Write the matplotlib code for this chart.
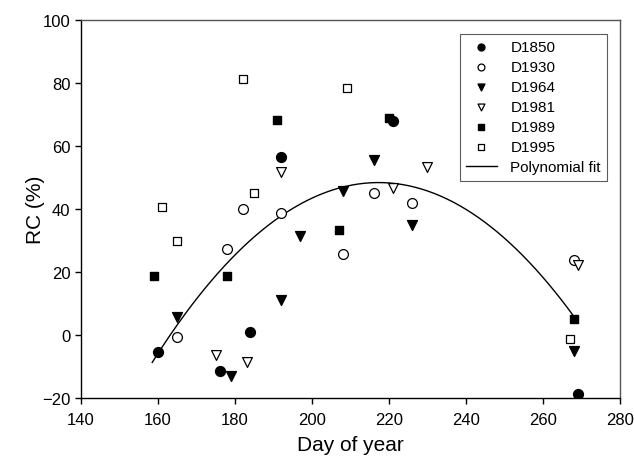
import matplotlib
matplotlib.use("Agg")
import matplotlib.pyplot as plt
import numpy as np

plt.rcParams['font.family'] = ['Liberation Sans', 'DejaVu Sans']

# data: (day of year, RC %)
d1850_x = [160, 176, 184, 192, 221, 269]
d1850_y = [-5.5, -11.3, 0.9, 56.4, 68.0, -18.8]
d1930_x = [165, 178, 182, 192, 208, 216, 226, 268]
d1930_y = [-0.6, 27.2, 39.8, 38.6, 25.6, 45.0, 42.0, 23.8]
d1964_x = [165, 179, 192, 197, 208, 216, 226, 268]
d1964_y = [5.8, -12.9, 11.1, 31.3, 45.6, 55.4, 35.0, -5.0]
d1981_x = [175, 183, 192, 221, 230, 269]
d1981_y = [-6.3, -8.5, 51.8, 46.6, 53.4, 22.2]
d1989_x = [159, 178, 191, 207, 220, 268]
d1989_y = [18.8, 18.6, 68.3, 33.4, 68.9, 5.2]
d1995_x = [161, 165, 182, 185, 209, 267]
d1995_y = [40.5, 29.7, 81.3, 45.0, 78.4, -1.3]

# quadratic fit coefficients (a, b, c) and its day range
fit_coef = [-0.0165, 7.171, -730.8]
fit_range = [158.5, 268]

fig = plt.figure(figsize=(6.34, 4.6), dpi=100)
ax = fig.add_axes([0.1278, 0.1326, 0.850, 0.8224])

ms = 50
ax.scatter(d1850_x, d1850_y, s=ms, marker='o', c='black', label='D1850', zorder=3)
ax.scatter(d1930_x, d1930_y, s=ms, marker='o', facecolors='white', edgecolors='black',
           linewidths=0.9, label='D1930', zorder=3)
ax.scatter(d1964_x, d1964_y, s=ms, marker='v', c='black', label='D1964', zorder=3)
ax.scatter(d1981_x, d1981_y, s=ms, marker='v', facecolors='white', edgecolors='black',
           linewidths=0.9, label='D1981', zorder=3)
ax.scatter(d1989_x, d1989_y, s=40, marker='s', c='black', label='D1989', zorder=3)
ax.scatter(d1995_x, d1995_y, s=40, marker='s', facecolors='white', edgecolors='black',
           linewidths=0.9, label='D1995', zorder=3)

xs = np.linspace(fit_range[0], fit_range[1], 200)
ax.plot(xs, np.polyval(fit_coef, xs), color='black', lw=1, label='Polynomial fit', zorder=2)

ax.set_xlim(140, 280)
ax.set_ylim(-20, 100)
ax.set_xticks(range(140, 281, 20))
ax.set_yticks(range(-20, 101, 20))
ax.tick_params(direction='out', length=4, width=1, labelsize=12, top=False, right=False)
ax.tick_params(axis='x', pad=6)
ax.set_xlabel('Day of year', fontsize=15, labelpad=6)
ax.set_ylabel('RC (%)', fontsize=15)
ax.yaxis.set_label_coords(-0.067, 0.5)

for s in ['top', 'right']:
    ax.spines[s].set_color('#555555')
for s in ax.spines.values():
    s.set_linewidth(1)

leg = ax.legend(loc='upper right', bbox_to_anchor=(0.976, 0.963), borderaxespad=0,
                fontsize=11, markerscale=0.7, fancybox=False, frameon=True,
                labelspacing=0.4, handlelength=2.0, borderpad=0.4, handletextpad=0.9)
leg.get_frame().set_edgecolor('#333333')
leg.get_frame().set_linewidth(0.8)

fig.savefig('out.png', dpi=100)
